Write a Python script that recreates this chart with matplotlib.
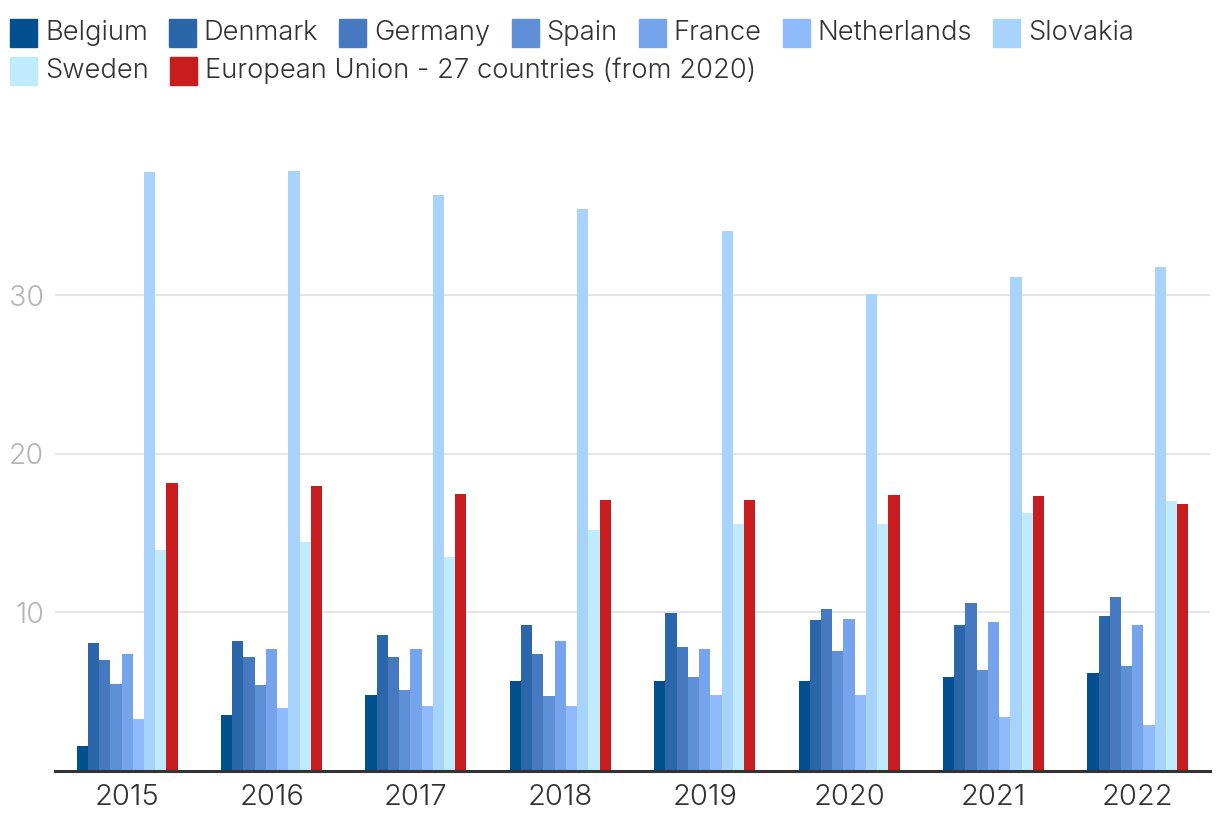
import matplotlib
matplotlib.use("Agg")
import matplotlib.pyplot as plt
import matplotlib.patches as mpatches
import numpy as np

years = ["2015", "2016", "2017", "2018", "2019", "2020", "2021", "2022"]
countries = ["Belgium", "Denmark", "Germany", "Spain", "France", "Netherlands",
             "Slovakia", "Sweden", "European Union - 27 countries (from 2020)"]
belgium     = [1.55, 3.5, 4.77, 5.65, 5.65, 5.65, 5.92, 6.17]
denmark     = [8.07, 8.2, 8.56, 9.2, 9.95, 9.5, 9.2, 9.78]
germany     = [7.0, 7.18, 7.17, 7.36, 7.8, 10.2, 10.6, 10.98]
spain       = [5.47, 5.41, 5.09, 4.71, 5.9, 7.55, 6.36, 6.61]
france      = [7.37, 7.69, 7.68, 8.18, 7.68, 9.57, 9.4, 9.2]
netherlands = [3.26, 3.96, 4.08, 4.08, 4.77, 4.77, 3.39, 2.88]
slovakia    = [37.8, 37.87, 36.36, 35.47, 34.08, 30.1, 31.18, 31.8]
sweden      = [13.9, 14.4, 13.49, 15.2, 15.57, 15.57, 16.23, 16.99]
eu27        = [18.13, 17.94, 17.47, 17.09, 17.09, 17.4, 17.31, 16.8]
series = [belgium, denmark, germany, spain, france, netherlands, slovakia, sweden, eu27]
colors = ["#02508F", "#2B65AA", "#4679C0", "#5F8FD6", "#76A4EC", "#8FBBFC",
          "#A8D3FD", "#C0EBFD", "#C81D1E"]
yticks = [10, 20, 30]

FONT = "Inter"
plt.rcParams['font.family'] = [FONT, 'DejaVu Sans']
plt.rcParams['font.weight'] = 300

fig = plt.figure(figsize=(12.2, 8.34), dpi=100)
ax = fig.add_axes([55 / 1220, 1 - 770.5 / 834, 1155 / 1220, (770.5 - 137) / 834])

n = len(series)
group_w = 0.70
bw = group_w / n
x = np.arange(len(years))
for i, (vals, c) in enumerate(zip(series, colors)):
    ax.bar(x - group_w / 2 + bw * (i + 0.5), vals, width=bw, color=c,
           linewidth=0, zorder=3)

ax.set_xlim(-0.5, len(years) - 0.5)
ax.set_ylim(0, 40)
ax.set_xticks(x)
ax.set_xticklabels(years, fontsize=21, color="#333333", fontweight=300)
ax.set_yticks(yticks)
ax.set_yticklabels([str(v) for v in yticks], fontsize=20.5, color="#B5B5B5", fontweight=300)
ax.tick_params(axis="x", length=0, pad=10)
ax.tick_params(axis="y", length=0, pad=8)
ax.grid(axis="y", color="#E6E6E6", linewidth=1.5, zorder=0)
for s in ["top", "right", "left"]:
    ax.spines[s].set_visible(False)
ax.spines["bottom"].set_color("#333333")
ax.spines["bottom"].set_linewidth(2.2)
ax.spines["bottom"].set_zorder(4)

# flow-layout legend
renderer = fig.canvas.get_renderer()
W, H = 1220, 834
sq = 27
rows_y = [33, 71]
x0 = 10
xmax = 1215
xc = x0
row = 0
for name, c in zip(countries, colors):
    t = fig.text(0, 0, name, fontsize=19.7, color="#333333", va="center", ha="left",
                 fontweight=300)
    w = t.get_window_extent(renderer).width
    if xc + sq + 8 + w > xmax:
        row += 1
        xc = x0
    yc = rows_y[row]
    fig.patches.append(mpatches.Rectangle(((xc) / W, 1 - (yc + sq / 2) / H), sq / W, sq / H,
                                          transform=fig.transFigure, color=c, figure=fig))
    t.set_position(((xc + sq + 8) / W, 1 - yc / H))
    xc += sq + 8 + w + 21

fig.savefig("out.png", dpi=100)
